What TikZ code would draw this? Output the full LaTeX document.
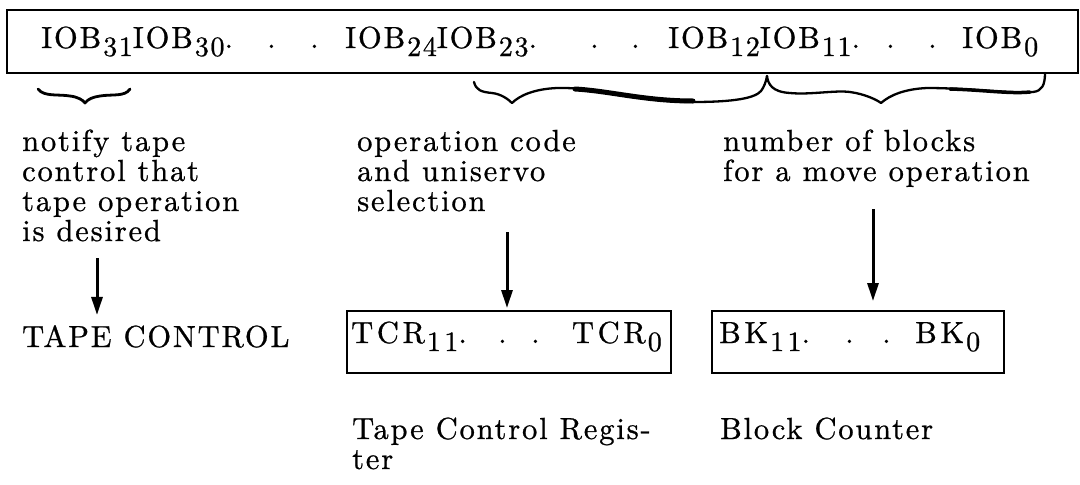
\documentclass[tikz,border=0pt]{standalone}
\usepackage{fontspec}
\setmainfont{lmroman10-regular.otf}[LetterSpace=6,FakeBold=0.8]
\newfontfamily\widefont{lmroman10-regular.otf}[LetterSpace=12,FakeBold=0.8]
\usetikzlibrary{arrows.meta}
\newcommand\sbx[1]{\hspace{2pt}\raisebox{-8pt}{\fontsize{28}{28}\selectfont #1}}
\begin{document}
\begin{tikzpicture}[x=1pt,y=-1pt,
  txt/.style={anchor=base west,inner sep=0pt,font=\fontsize{30.5}{32}\selectfont},
  wtxt/.style={txt,font=\widefont\fontsize{30.5}{32}\selectfont},
  regbox/.style={draw,line width=1.8pt,inner sep=0pt,anchor=north west},
  arr/.style={line width=3pt,-{Triangle[length=18pt,width=11pt]}},
  brace/.style={line width=2.3pt,line cap=round,line join=round},
  thickbrace/.style={line width=5pt,line cap=round}]
\fill[white] (0,0) rectangle (1080,485);
\useasboundingbox (0,0) rectangle (1080,485);

% top register
\node[regbox, minimum width=1071pt, minimum height=63pt] (iob) at (6,9) {};
\node[txt] (t1) at (41,48) {IOB\sbx{31}IOB\sbx{30}.};
\node[txt] (d1) at (267,48) {.};
\node[txt] (d2) at (310,48) {.};
\node[txt] (t2) at (345,48) {IOB\sbx{24}IOB\sbx{23}.};
\node[txt] (d3) at (590,48) {.};
\node[txt] (d4) at (631,48) {.};
\node[txt] (t3) at (668,48) {IOB\sbx{12}IOB\sbx{11}.};
\node[txt] (d5) at (886,48) {.};
\node[txt] (d6) at (928,48) {.};
\node[txt] (t4) at (962,48) {IOB\sbx{0}};

% braces
\draw[brace,line width=2.8pt] (38,89) .. controls (44,97) and (58,94) .. (70,96) .. controls (78,97) and (83,100) .. (85,103) .. controls (88,99) and (93,97) .. (100,96) .. controls (112,94) and (125,97) .. (130,89);
\draw[brace] (474,82) .. controls (476,90) and (481,92) .. (492,93) .. controls (501,94) and (508,99) .. (512,103) .. controls (520,95) and (535,89) .. (557,88) .. controls (600,87) and (640,102) .. (693,102) .. controls (735,102) and (755,98) .. (761,91) .. controls (764,87) and (766,82) .. (767,76);
\draw[thickbrace] (575,89) .. controls (610,91) and (645,101) .. (693,101);
\draw[brace] (767,76) .. controls (768,84) and (772,92) .. (790,93) .. controls (810,95) and (835,90) .. (850,92) .. controls (865,94) and (877,100) .. (881,103) .. controls (890,95) and (905,89) .. (927,88) .. controls (970,88) and (1010,94) .. (1033,92) .. controls (1042,91) and (1045,85) .. (1045,73);
\draw[line width=3.5pt,line cap=round] (950,89) .. controls (985,90) and (1010,94) .. (1030,92);

% descriptions
\node[txt] (n1) at (22,151) {notify tape};
\node[txt] (n2) at (22,181) {control that};
\node[txt] (n3) at (22,211) {tape operation};
\node[txt] (n4) at (22,241) {is desired};
\node[txt] (o1) at (357,151) {operation code};
\node[txt] (o2) at (357,181) {and uniservo};
\node[txt] (o3) at (357,211) {selection};
\node[txt] (b1) at (723,151) {number of blocks};
\node[txt] (b2) at (723,181) {for a move operation};

% targets
\node[txt] (tc) at (22,347) {TAPE CONTROL};
\node[regbox, minimum width=324pt, minimum height=62pt] (tcr) at (346,310) {};
\node[wtxt] (r1) at (351,343) {TCR\sbx{11}.};
\node[txt] (r2) at (498,343) {.};
\node[txt] (r3) at (531,343) {.};
\node[wtxt,anchor=base east] (r4) at (662,343) {TCR\sbx{0}};
\node[regbox, minimum width=292pt, minimum height=62pt] (bk) at (711,310) {};
\node[wtxt] (k1) at (719,343) {BK\sbx{11}.};
\node[txt] (k2) at (845,343) {.};
\node[txt] (k3) at (882,343) {.};
\node[wtxt] (k4) at (915,343) {BK\sbx{0}};
\node[txt] (l1) at (352,439) {Tape Control Regis-};
\node[txt] (l2) at (352,469) {ter};
\node[txt] (l3) at (720,439) {Block Counter};

% arrows
\coordinate (a1) at (97,258);
\coordinate (a2) at (507,232);
\coordinate (a3) at (873,209);
\draw[arr] (a1) -- ([yshift=10pt]a1 |- tc.north);
\draw[arr] (a2) -- ([yshift=2pt]a2 |- tcr.north);
\draw[arr] (a3) -- ([yshift=9pt]a3 |- bk.north);
\end{tikzpicture}
\end{document}
